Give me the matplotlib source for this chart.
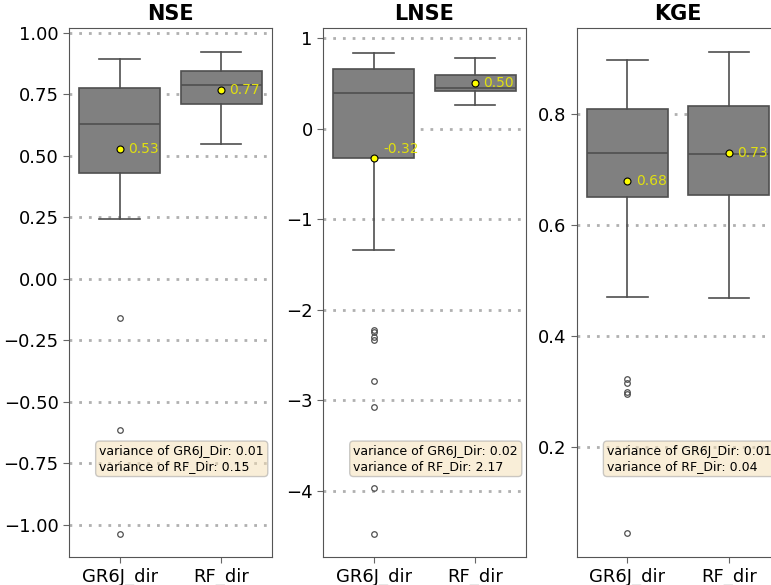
import matplotlib.pyplot as plt

# box statistics
labels = ['GR6J_dir', 'RF_dir']
metrics = ['NSE', 'LNSE', 'KGE']

nse_q1 = [0.43, 0.711]
nse_med = [0.63, 0.79]
nse_q3 = [0.776, 0.846]
nse_lo = [0.244, 0.549]
nse_hi = [0.893, 0.923]
nse_mean = [0.53, 0.77]
nse_fliers = [[-0.159, -0.614, -1.037], []]
nse_var = [0.01, 0.15]

lnse_q1 = [-0.33, 0.41]
lnse_med = [0.39, 0.45]
lnse_q3 = [0.66, 0.59]
lnse_lo = [-1.34, 0.265]
lnse_hi = [0.84, 0.78]
lnse_mean = [-0.32, 0.50]
lnse_fliers = [[-2.22, -2.25, -2.30, -2.34, -2.79, -3.07, -3.97, -4.48], []]
lnse_var = [0.02, 2.17]

kge_q1 = [0.65, 0.654]
kge_med = [0.73, 0.728]
kge_q3 = [0.809, 0.815]
kge_lo = [0.47, 0.468]
kge_hi = [0.897, 0.912]
kge_mean = [0.68, 0.73]
kge_fliers = [[0.322, 0.315, 0.299, 0.295, 0.045], []]
kge_var = [0.01, 0.04]

data = {
    'NSE': (nse_q1, nse_med, nse_q3, nse_lo, nse_hi, nse_mean, nse_fliers, nse_var),
    'LNSE': (lnse_q1, lnse_med, lnse_q3, lnse_lo, lnse_hi, lnse_mean, lnse_fliers, lnse_var),
    'KGE': (kge_q1, kge_med, kge_q3, kge_lo, kge_hi, kge_mean, kge_fliers, kge_var),
}
ylims = {'NSE': (-1.13, 1.02), 'LNSE': (-4.73, 1.11), 'KGE': (0.002, 0.955)}
yticks = {
    'NSE': [-1.0, -0.75, -0.5, -0.25, 0.0, 0.25, 0.5, 0.75, 1.0],
    'LNSE': [-4, -3, -2, -1, 0, 1],
    'KGE': [0.2, 0.4, 0.6, 0.8],
}
yfmt = {'NSE': '{:.2f}', 'LNSE': '{:.0f}', 'KGE': '{:.1f}'}
# label nudges (points) for the mean annotations
mean_offsets = {'NSE': [(6, 0), (6, 0)], 'LNSE': [(7, 6), (6, 0)], 'KGE': [(6, 0), (6, 0)]}

EDGE = '#4f4f4f'
fig = plt.figure(figsize=(7.71, 5.85), dpi=100)
lefts = [0.0895, 0.419, 0.748]

for left, name in zip(lefts, metrics):
    ax = fig.add_axes([left, 0.048, 0.263, 0.904])
    q1, med, q3, lo, hi, mean, fliers, var = data[name]
    stats = []
    for i in range(2):
        stats.append(dict(label=labels[i], q1=q1[i], med=med[i], q3=q3[i],
                          whislo=lo[i], whishi=hi[i], mean=mean[i], fliers=fliers[i]))
    ax.bxp(stats, positions=[0, 1], widths=0.8, patch_artist=True, showmeans=True,
           boxprops=dict(facecolor='#808080', edgecolor=EDGE, linewidth=1.2),
           medianprops=dict(color=EDGE, linewidth=1.2),
           whiskerprops=dict(color=EDGE, linewidth=1.2),
           capprops=dict(color=EDGE, linewidth=1.2),
           capwidths=0.4,
           flierprops=dict(marker='o', markersize=4, markerfacecolor='none',
                           markeredgecolor=EDGE, markeredgewidth=0.9),
           meanprops=dict(marker='o', markersize=5, markerfacecolor='yellow',
                          markeredgecolor='black', markeredgewidth=0.8))
    for i in range(2):
        ax.annotate('{:.2f}'.format(mean[i]), (i, mean[i]), xytext=mean_offsets[name][i],
                    textcoords='offset points', va='center', ha='left',
                    color='#e0e010', fontsize=10, zorder=5)
    ax.set_xlim(-0.5, 1.5)
    ax.set_ylim(*ylims[name])
    ax.set_yticks(yticks[name])
    ax.set_yticklabels([yfmt[name].format(t).replace('-', '\u2212') for t in yticks[name]])
    ax.yaxis.grid(True, linestyle=(0, (1, 2.5)), color='#b0b0b0', linewidth=2)
    ax.set_axisbelow(True)
    ax.tick_params(labelsize=13, color='#666666', length=4)
    for sp in ax.spines.values():
        sp.set_color('#555555')
    ax.set_title(name, fontsize=15, fontweight='bold')
    ax.text(0.15, 0.212, 'variance of GR6J_Dir: {:.2f}\nvariance of RF_Dir: {:.2f}'.format(var[0], var[1]),
            transform=ax.transAxes, fontsize=9, va='top', ha='left',
            bbox=dict(boxstyle='round', facecolor='wheat', alpha=0.5, edgecolor='#999999'))

fig.savefig('out.png', dpi=100, facecolor='white')
